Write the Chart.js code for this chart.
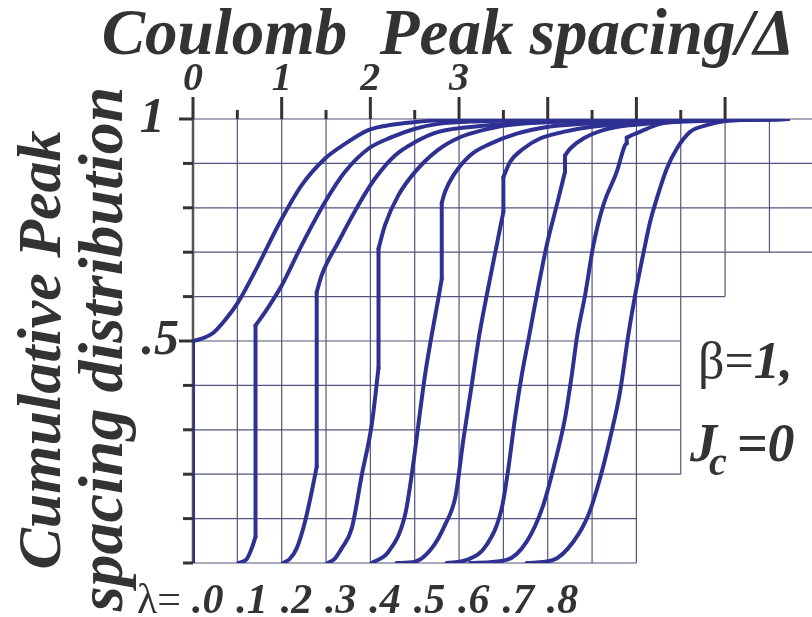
<!DOCTYPE html>
<html><head><meta charset="utf-8">
<script src="https://cdn.jsdelivr.net/npm/chart.js@4.4.1/dist/chart.umd.min.js"></script>
<style>
html,body{margin:0;padding:0;background:#fff;overflow:hidden}
#wrap{position:relative;width:812px;height:617px;overflow:hidden}
canvas{position:absolute;left:0;top:0}
.t{position:absolute;font-family:"Liberation Serif","Times New Roman",Times,serif;font-weight:bold;font-style:italic;color:#333;white-space:pre;line-height:1}
.g{font-style:normal;font-weight:normal}
</style></head><body>
<div id="wrap"><canvas id="c" width="812" height="617"></canvas>
<div class="t" id="title" style="font-size:65px;left:448px;top:0px;transform:translateX(-50%)">Coulomb  Peak spacing/Δ</div>
<div class="t" id="yt1" style="font-size:62px;left:39px;top:350px;transform:translate(-50%,-50%) rotate(-90deg)">Cumulative Peak</div>
<div class="t" id="yt2" style="font-size:64px;left:101px;top:349px;transform:translate(-50%,-50%) rotate(-90deg)">spacing distribution</div>
<div class="t" id="beta" style="font-size:52px;left:698px;top:335px"><span class="g">β=</span>1,</div>
<div class="t" id="jc" style="font-size:54px;left:690px;top:416px">J<span style="font-size:40px;position:relative;top:14px;margin-left:-8px">c</span><span style="margin-left:10px">=0</span></div>
<div class="t g" id="lam" style="font-size:42px;top:578px;left:137px">λ=</div>
<div id="lamlabels"></div>
</div>
<script>
// ---- data ----
const lambdaLabels = ['.0', '.1', '.2', '.3', '.4', '.5', '.6', '.7', '.8'];
const curveL0 = [[0,0],[0,0.5],[0.08,0.504],[0.226,0.518],[0.361,0.547],[0.511,0.588],[0.736,0.671],[0.981,0.768],[1.226,0.851],[1.489,0.911],[1.714,0.944],[1.977,0.975],[2.241,0.987],[2.504,0.993],[2.763,0.997],[3.46,0.999],[6.71,1]];
const curveL1 = [[0.511,0],[0.606,0.009],[0.662,0.033],[0.705,0.059],[0.705,0.535],[0.812,0.565],[1.0,0.625],[1.226,0.716],[1.489,0.813],[1.714,0.881],[1.977,0.933],[2.241,0.959],[2.504,0.978],[2.766,0.989],[3.24,0.995],[3.91,0.998],[6.71,1]];
const curveL2 = [[1.018,0],[1.09,0.009],[1.169,0.033],[1.263,0.093],[1.339,0.161],[1.395,0.217],[1.395,0.61],[1.451,0.648],[1.639,0.723],[1.864,0.806],[2.053,0.866],[2.278,0.918],[2.504,0.948],[2.766,0.971],[3.237,0.984],[3.913,0.993],[4.816,0.998],[6.71,1]];
const curveL3 = [[1.519,0],[1.6,0.01],[1.677,0.033],[1.79,0.078],[1.903,0.198],[2.015,0.311],[2.092,0.439],[2.092,0.708],[2.165,0.761],[2.315,0.828],[2.504,0.881],[2.76,0.93],[3.011,0.959],[3.271,0.975],[3.538,0.986],[4.026,0.993],[4.816,0.998],[6.71,1]];
const curveL4 = [[2.015,0],[2.203,0.025],[2.391,0.108],[2.466,0.198],[2.541,0.311],[2.616,0.423],[2.692,0.514],[2.766,0.595],[2.805,0.64],[2.805,0.811],[2.842,0.836],[2.936,0.873],[3.124,0.918],[3.349,0.944],[3.651,0.967],[3.989,0.982],[4.365,0.989],[5.04,0.995],[6.71,1]];
const curveL5 = [[2.297,0],[2.504,0.003],[2.692,0.033],[2.842,0.086],[2.96,0.15],[3.05,0.28],[3.143,0.401],[3.229,0.514],[3.312,0.603],[3.425,0.716],[3.5,0.791],[3.5,0.869],[3.575,0.903],[3.725,0.933],[3.913,0.956],[4.176,0.971],[4.477,0.982],[5.041,0.991],[5.718,0.997],[6.71,1]];
const curveL6 = [[2.861,0],[3.087,0.007],[3.312,0.041],[3.481,0.123],[3.556,0.213],[3.631,0.326],[3.707,0.423],[3.793,0.514],[3.876,0.603],[3.989,0.716],[4.102,0.806],[4.195,0.881],[4.195,0.918],[4.252,0.933],[4.402,0.956],[4.627,0.975],[4.928,0.986],[5.492,0.994],[6.71,1]];
const curveL7 = [[3.124,0],[3.538,0.007],[3.763,0.048],[3.951,0.131],[4.083,0.228],[4.195,0.326],[4.271,0.423],[4.334,0.514],[4.421,0.603],[4.515,0.716],[4.627,0.806],[4.778,0.881],[4.872,0.941],[4.891,0.945],[4.891,0.958],[4.966,0.965],[5.117,0.978],[5.267,0.989],[5.718,0.997],[6.71,1]];
const curveL8 = [[3.763,0],[4.063,0.007],[4.289,0.048],[4.458,0.108],[4.59,0.191],[4.703,0.281],[4.816,0.386],[4.909,0.514],[4.985,0.603],[5.098,0.716],[5.154,0.768],[5.23,0.821],[5.342,0.888],[5.455,0.933],[5.605,0.971],[5.793,0.986],[5.981,0.995],[6.394,0.999],[6.71,1]];
const curves = [curveL0, curveL1, curveL2, curveL3, curveL4, curveL5, curveL6, curveL7, curveL8];

// axis / tick labels
const xTickLabelValues = [0, 1, 2, 3];
const xTickMarks = [0,0.5,1,1.5,2,2.5,3,3.5,4,4.5,5,5.5,6];
const yTickLabelValues = [1, 0.5];
const yTickLabelTexts = ['1\u2009\u200A', '.5'];
const yTickMarks = [0,0.1,0.2,0.3,0.4,0.5,0.6,0.7,0.8,0.9,1];
// staircase grid
const hGridValues = [1,0.9,0.8,0.7,0.6,0.5,0.4,0.3,0.2,0.1,0];
const hGridEnds   = [6.98,6.98,6.98,6.98,6,5.5,5.5,5.5,5.5,5,5];
const vGridValues  = [0.5,1,1.5,2,2.5,3,3.5,4,4.5,5,5.5,6,6.5];
const vGridBottoms = [0,0,0,0,0,0,0,0,0,0,0.2,0.6,0.7];

const XMAX = 6.98;
const near = (a,b)=>Math.abs(a-b)<1e-6;

const gridPlugin = {
  id: 'stairGrid',
  beforeDatasetsDraw(chart) {
    const {ctx, scales: {x, y}} = chart;
    ctx.save();
    ctx.strokeStyle = '#55557f';
    ctx.lineWidth = 1.2;
    hGridValues.forEach((v, i) => {
      const py = y.getPixelForValue(v);
      ctx.beginPath(); ctx.moveTo(x.getPixelForValue(0), py); ctx.lineTo(x.getPixelForValue(hGridEnds[i]), py); ctx.stroke();
    });
    vGridValues.forEach((v, i) => {
      const px = x.getPixelForValue(v);
      ctx.beginPath(); ctx.moveTo(px, y.getPixelForValue(1)); ctx.lineTo(px, y.getPixelForValue(vGridBottoms[i])); ctx.stroke();
    });
    // left axis
    const x0 = x.getPixelForValue(0);
    ctx.strokeStyle = '#555';
    ctx.lineWidth = 2.5;
    ctx.beginPath(); ctx.moveTo(x0, y.getPixelForValue(1)); ctx.lineTo(x0, y.getPixelForValue(0)); ctx.stroke();
    // y tick marks
    ctx.strokeStyle = '#333';
    ctx.lineWidth = 3;
    yTickMarks.forEach(v => {
      const py = y.getPixelForValue(v);
      const len = (near(v,1) || near(v,0.5)) ? 14 : 10;
      ctx.beginPath(); ctx.moveTo(x0 - len, py); ctx.lineTo(x0, py); ctx.stroke();
    });
    // x tick marks (top)
    const yTop = y.getPixelForValue(1);
    xTickMarks.forEach(v => {
      const px = x.getPixelForValue(v);
      const len = near(v, Math.round(v)) ? 22 : 9;
      ctx.beginPath(); ctx.moveTo(px, yTop); ctx.lineTo(px, yTop - len); ctx.stroke();
    });
    ctx.restore();
  }
};

// Split each curve at its vertical jumps: smooth (monotone) pieces + straight vertical pieces.
const datasets = [];
curves.forEach((c, ci) => {
  const pieces = [];
  let cur = [c[0]];
  for (let i = 1; i < c.length; i++) {
    const p = c[i], q = c[i - 1];
    if (p[0] === q[0]) {
      if (cur.length > 1) pieces.push({pts: cur, straight: false});
      pieces.push({pts: [q, p], straight: true});
      cur = [p];
    } else cur.push(p);
  }
  if (cur.length > 1) pieces.push({pts: cur, straight: false});
  pieces.forEach(pc => datasets.push({
    label: 'λ=' + lambdaLabels[ci],
    data: pc.pts.map(([x, y]) => ({x, y})),
    borderColor: '#2e3192',
    borderWidth: 4,
    pointRadius: 0,
    fill: false,
    tension: 0,
    cubicInterpolationMode: pc.straight ? 'default' : 'monotone',
    borderCapStyle: 'round',
    borderJoinStyle: 'round'
  }));
});

const chart = new Chart(document.getElementById('c'), {
  type: 'line',
  data: {datasets},
  options: {
    responsive: false,
    animation: false,
    events: [],
    layout: {padding: {left: 0, right: 0, top: 0, bottom: 54}},
    plugins: {legend: {display: false}, tooltip: {enabled: false}},
    scales: {
      x: {
        type: 'linear', position: 'top', min: 0, max: XMAX,
        grid: {display: false, drawTicks: false},
        border: {display: false},
        afterBuildTicks(s) { s.ticks = xTickMarks.map(v => ({value: v})); },
        ticks: {
          autoSkip: false, maxRotation: 0,
          padding: 15,
          color: '#333',
          font: {family: "'Liberation Serif', serif", size: 40, style: 'italic', weight: 'bold'},
          callback: v => xTickLabelValues.some(t => near(t, v)) ? String(v) : ''
        },
        afterFit(s) { s.height = 119; }
      },
      y: {
        type: 'linear', min: 0, max: 1,
        grid: {display: false, drawTicks: false},
        border: {display: false},
        afterBuildTicks(s) { s.ticks = yTickMarks.map(v => ({value: v})); },
        ticks: {
          autoSkip: false,
          padding: 14,
          color: '#333',
          font: {family: "'Liberation Serif', serif", size: 50, style: 'italic', weight: 'bold'},
          callback: v => { const i = yTickLabelValues.findIndex(t => near(t, v)); return i >= 0 ? yTickLabelTexts[i] : ''; }
        },
        afterFit(s) { s.width = 193; }
      }
    }
  },
  plugins: [gridPlugin]
});

// lambda labels under each curve start, placed via the x scale
const holder = document.getElementById('lamlabels');
lambdaLabels.forEach((t, k) => {
  const d = document.createElement('div');
  d.className = 't';
  d.style.fontSize = '42px';
  d.style.top = '578px';
  d.style.left = (chart.scales.x.getPixelForValue(0.5 * k) - 1) + 'px';
  d.textContent = t;
  holder.appendChild(d);
});
</script>
</body></html>
